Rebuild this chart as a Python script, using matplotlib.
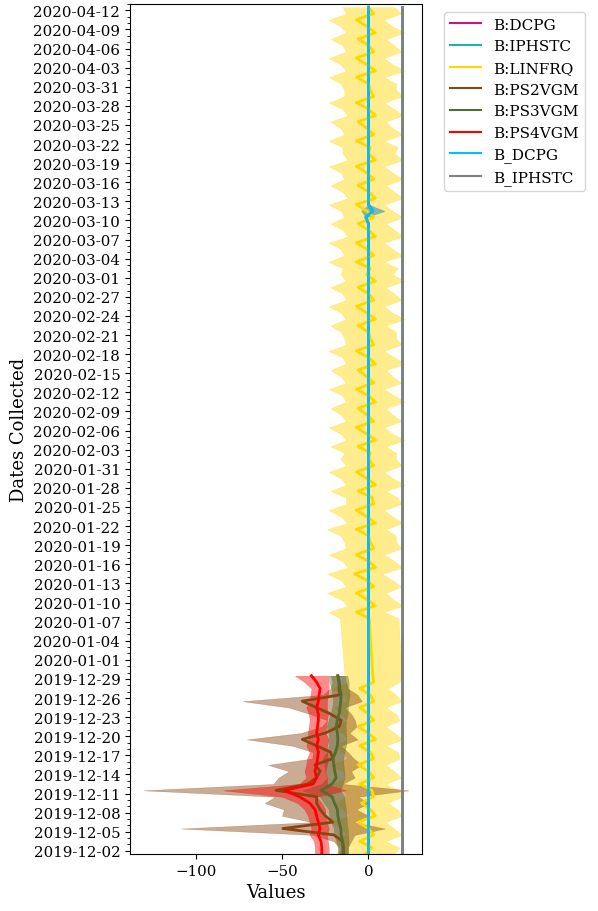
import numpy as np
import pandas as pd
import matplotlib
matplotlib.use("Agg")
import matplotlib.pyplot as plt
import matplotlib.dates as mdates

plt.rcParams["font.family"] = "DejaVu Serif"

# two blocks of daily readings, with a gap over new year
dec_dates = pd.date_range("2019-12-01 12:00", "2019-12-29 12:00", freq="D")
spring_dates = pd.date_range("2020-01-07 12:00", "2020-04-12 12:00", freq="D")
all_dates = dec_dates.append(spring_dates)

# PS*VGM only have the december block
ps2_mean = [-14.5, -14.5, -15.0, -20.0, -49.5, -20.6, -25.0, -28.0, -30.0, -30.0,
            -53.5, -35.0, -30.0, -28.0, -31.0, -20.5, -22.0, -30.0, -38.3, -25.0,
            -17.0, -15.8, -22.0, -30.0, -38.3, -16.4, -17.0, -17.0, -17.7]
ps2_std = [2.5, 2.5, 5, 12, 59, 12, 25, 21, 30, 24,
           76.8, 20, 22, 18, 27, 12, 10, 14, 32, 14,
           10, 8, 12, 16, 34.5, 10, 5, 4, 4]

ps3_mean = [-14.8, -14.8, -15.0, -15.8, -16.0, -17.0, -17.7, -18.0, -19.7, -21.0,
            -27.4, -21.0, -18.7, -19.5, -20.0, -20.6, -19.0, -18.0, -17.7, -18.0,
            -18.7, -18.0, -17.0, -16.5, -16.0, -15.8, -16.5, -17.0, -17.7]
ps3_std = [3, 3, 3.5, 4, 4, 4.5, 5, 5, 6, 7,
           11, 6, 5, 5.5, 5.5, 6, 5, 5, 5, 5,
           5.5, 5, 5, 4.5, 4.5, 5, 5, 5.5, 5.5]

ps4_mean = [-27.0, -27.0, -27.5, -29.0, -28.0, -29.0, -30.0, -31.0, -34.0, -40.0,
            -48.5, -32.0, -30.0, -31.0, -30.0, -29.5, -29.0, -30.0, -29.0, -30.0,
            -29.5, -29.0, -29.0, -30.0, -29.0, -28.5, -28.0, -30.0, -33.0]
ps4_std = [4, 4, 4, 5, 5, 5, 5, 6, 7, 10,
           35.5, 8, 6, 6, 6, 6, 5, 6, 6, 5,
           5, 5, 5.5, 6, 5, 5, 5, 7, 9.5]

# LINFRQ covers both blocks
linfrq_dec = [-2, 2, -5, 3, 0, -6, 4, 1, -4, 3, 2, -5, 3, 0, -6, 3, 1, -5, 4, 0,
              -6, 3, 0, -5, 3, 1, -5, 3, 2.5]
linfrq_jan = [0.5, -7, 4, -1, -7, 3, -1, -8, 4, 0, -7, 3, 1, 0, -7, 4, -1, -7, 3, 2,
              -6, 4, -1, -7, 3]
linfrq_feb = [0, 1, -6, 4, -1, -7, 3, -1, -6, 4, 0, -7, 3, -1, -6, 4, 0, -7, 3, 1,
              0, -6, 4, -1, -7, 3, 0, -6, 4]
linfrq_mar = [-1, 1, -7, 3, -1, -7, 4, 0, -6, 3, -1, -7, 4, 0, -6, 3, -1, -7, 4, 0,
              1, -7, 3, -1, -6, 4, 0, -7, 3, 1, 0]
linfrq_apr = [-7, 4, -1, -7, 3, 0, -6, 4, -1, -7, 3, 0]

linfrq_std_dec = [17, 16, 15, 16, 15, 16, 15, 16, 15, 16, 16, 15, 16, 15, 16, 15, 16, 15, 16, 15,
                  16, 15, 16, 15, 16, 15, 16, 15, 16.4]
linfrq_std_jan = [17, 16, 16, 15, 17, 16, 15, 16, 16, 15, 16, 16, 15, 16, 17, 16, 15, 16, 16, 15,
                  16, 17, 15, 16, 16]
linfrq_std_feb = [16, 15, 16, 17, 15, 16, 16, 15, 16, 17, 15, 16, 16, 15, 16, 17, 15, 16, 16, 15,
                  16, 16, 17, 15, 16, 16, 15, 16, 17]
linfrq_std_mar = [15, 16, 16, 17, 15, 16, 16, 15, 16, 17, 15, 16, 16, 15, 16, 17, 15, 16, 16, 15,
                  16, 16, 17, 15, 16, 16, 15, 16, 17, 15, 16]
linfrq_std_apr = [16, 17, 15, 16, 16, 15, 16, 17, 15, 16, 16, 15]

# DCPG sits at 0 and IPHSTC at 19.5, apart from one blip in march
dcpg_level = 0.0
iphstc_level = 19.5
dcpg_blip = {"2020-03-10 12:00": (-1.5, 0.0), "2020-03-11 12:00": (2.5, 6.7)}

colors = {
    "B:DCPG": "mediumvioletred",
    "B:IPHSTC": "lightseagreen",
    "B:LINFRQ": "gold",
    "B:PS2VGM": "saddlebrown",
    "B:PS3VGM": "darkolivegreen",
    "B:PS4VGM": "red",
    "B_DCPG": "deepskyblue",
    "B_IPHSTC": "gray",
}


def flat_series(level, blips=None):
    mean = pd.Series(level, index=all_dates, dtype=float)
    std = pd.Series(0.0, index=all_dates)
    for when, (m, s) in (blips or {}).items():
        mean[pd.Timestamp(when)] = m
        std[pd.Timestamp(when)] = s
    return mean, std


series = {}
series["B:DCPG"] = flat_series(dcpg_level, dcpg_blip)
series["B:IPHSTC"] = flat_series(iphstc_level)
series["B:LINFRQ"] = (
    pd.Series(linfrq_dec + linfrq_jan + linfrq_feb + linfrq_mar + linfrq_apr, index=all_dates, dtype=float),
    pd.Series(linfrq_std_dec + linfrq_std_jan + linfrq_std_feb + linfrq_std_mar + linfrq_std_apr,
              index=all_dates, dtype=float),
)
series["B:PS2VGM"] = (pd.Series(ps2_mean, index=dec_dates), pd.Series(ps2_std, index=dec_dates, dtype=float))
series["B:PS3VGM"] = (pd.Series(ps3_mean, index=dec_dates), pd.Series(ps3_std, index=dec_dates, dtype=float))
series["B:PS4VGM"] = (pd.Series(ps4_mean, index=dec_dates), pd.Series(ps4_std, index=dec_dates, dtype=float))
series["B_DCPG"] = flat_series(dcpg_level, dcpg_blip)
series["B_IPHSTC"] = flat_series(iphstc_level)

fig = plt.figure(figsize=(5.98, 9.12), dpi=100)
ax = fig.add_axes([130 / 598, 57 / 912, 292 / 598, 850 / 912])

for name, (mean, std) in series.items():
    c = colors[name]
    if (std > 0).any():
        ax.fill_betweenx(mean.index, mean - std, mean + std, color=c, alpha=0.45, lw=0.3)
    ax.plot(mean.values, mean.index, color=c, lw=2, label=name)

ax.set_ylim(pd.Timestamp("2019-12-01 12:00"), pd.Timestamp("2020-04-13"))
ax.set_yticks(pd.date_range("2019-12-02", "2020-04-12", freq="3D"))
ax.yaxis.set_major_formatter(mdates.DateFormatter("%Y-%m-%d"))
ax.yaxis.set_minor_locator(mdates.DayLocator())
ax.tick_params(axis="both", labelsize=10.8)

ax.set_xlabel("Values", fontsize=13)
ax.set_ylabel("Dates Collected", fontsize=13)
leg = ax.legend(loc="upper left", bbox_to_anchor=(1.05, 1), fontsize=11)
for line in leg.get_lines():
    line.set_linewidth(1.5)

fig.savefig("out.png", dpi=100)
